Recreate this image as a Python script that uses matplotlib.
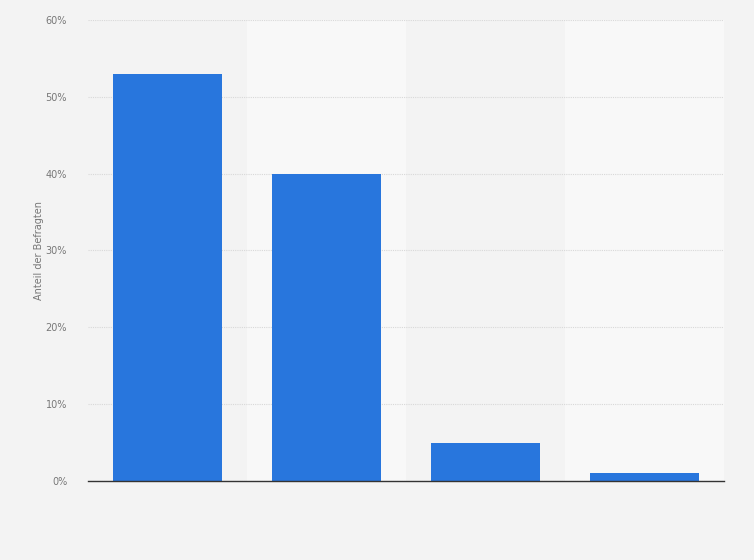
import matplotlib

matplotlib.use("Agg")
import matplotlib.pyplot as plt
from matplotlib.ticker import FuncFormatter

# values (category labels are not shown)
categories = ["", "", "", ""]
shares = [53, 40, 5, 1]
yticks = [0, 10, 20, 30, 40, 50, 60]

bg = "#f3f3f3"
bar_color = "#2876dd"

fig = plt.figure(figsize=(7.54, 5.6), dpi=100, facecolor=bg)
ax = fig.add_axes([0.1167, 0.1411, 0.8435, 0.8232])
ax.set_facecolor(bg)

x = list(range(len(categories)))
# alternating column bands
for i in x:
    if i % 2 == 1:
        ax.axvspan(i - 0.5, i + 0.5, color="#f8f8f8", zorder=0, lw=0)

ax.bar(x, shares, width=0.69, color=bar_color, zorder=3)

ax.set_xlim(-0.5, len(categories) - 0.5)
ax.set_ylim(0, 60)
ax.set_yticks(yticks)
ax.yaxis.set_major_formatter(FuncFormatter(lambda v, _: f"{v:.0f}%"))
ax.set_xticks(x)
ax.set_xticklabels(categories)
ax.tick_params(axis="x", length=0)
ax.tick_params(axis="y", length=0, labelsize=7, labelcolor="#777777", pad=15)

ax.grid(axis="y", color="#d8d8d8", linestyle=(0, (1, 1)), linewidth=0.8, zorder=1)
for side in ["top", "right", "left"]:
    ax.spines[side].set_visible(False)
ax.spines["bottom"].set_color("#333333")
ax.spines["bottom"].set_linewidth(1.0)
ax.spines["bottom"].set_zorder(4)

ax.set_ylabel("Anteil der Befragten", fontsize=7, color="#777777", labelpad=1)

fig.savefig("out.png", dpi=100, facecolor=bg)
